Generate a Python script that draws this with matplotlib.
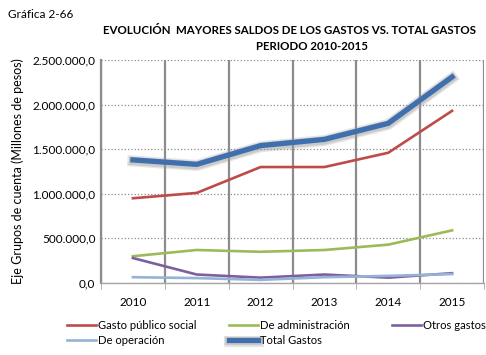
import matplotlib
matplotlib.use('Agg')

import matplotlib.pyplot as plt
import matplotlib.patheffects as pe
from matplotlib.ticker import FuncFormatter, FixedLocator

plt.rcParams['font.family'] = ['Lato', 'DejaVu Sans']

years = ['2010', '2011', '2012', '2013', '2014', '2015']
gasto_social = [950000, 1010000, 1300000, 1300000, 1460000, 1930000]
administracion = [300000, 370000, 350000, 370000, 430000, 590000]
otros_gastos = [280000, 95000, 60000, 95000, 60000, 110000]
operacion = [65000, 55000, 35000, 65000, 80000, 100000]
total_gastos = [1380000, 1330000, 1540000, 1610000, 1790000, 2310000]


def miles(v, pos):
    s = '{:,.1f}'.format(v)
    return s.replace(',', 'X').replace('.', ',').replace('X', '.')


fig = plt.figure(figsize=(4.86, 3.55), dpi=100)
ax = fig.add_axes([101 / 486, 1 - 283 / 355, 383 / 486, 223 / 355])

x = range(len(years))
l1, = ax.plot(x, gasto_social, color='#BE4B48', lw=1.9, label='Gasto público social', zorder=4)
l2, = ax.plot(x, administracion, color='#9BBB59', lw=1.9, label='De administración', zorder=4)
l3, = ax.plot(x, otros_gastos, color='#7D5FA0', lw=1.9, label='Otros gastos', zorder=4)
l4, = ax.plot(x, operacion, color='#95B3D7', lw=1.9, label='De operación', zorder=4)
# sombra difusa bajo la linea del total
sombra = [pe.SimpleLineShadow(offset=(0, -0.8), shadow_color='#9a9a9a', alpha=0.25, linewidth=8),
          pe.SimpleLineShadow(offset=(0, -0.8), shadow_color='#9a9a9a', alpha=0.35, linewidth=6),
          pe.Normal()]
l5, = ax.plot(x, total_gastos, color='#3F6FAD', lw=3.8, label='Total Gastos', zorder=5,
              path_effects=sombra)

ax.set_xlim(-0.5, 5.5)
ax.set_ylim(0, 2500000)
ax.set_yticks([0, 500000, 1000000, 1500000, 2000000, 2500000])
ax.yaxis.set_major_formatter(FuncFormatter(miles))
ax.set_xticks(list(x))
ax.set_xticklabels(years)
ax.xaxis.set_minor_locator(FixedLocator([i - 0.5 for i in range(7)]))
ax.tick_params(axis='x', which='major', length=0, labelsize=8.5, pad=10)
ax.tick_params(axis='x', which='minor', length=4, color='#A6A6A6')
ax.tick_params(axis='y', length=0, labelsize=8.5, pad=4)

ax.grid(axis='y', which='major', linestyle=':', color='#8C8C8C', lw=0.9)
ax.grid(axis='x', which='minor', linestyle='-', color='#8C8C8C', lw=1.6)
ax.set_axisbelow(True)

for side in ['top', 'right']:
    ax.spines[side].set_visible(False)
ax.spines['left'].set_color('#8C8C8C')
ax.spines['left'].set_linewidth(1.6)
ax.spines['bottom'].set_color('#A6A6A6')
ax.spines['bottom'].set_linewidth(1.0)

ax.set_ylabel('Eje Grupos de cuenta (Millones de pesos)', fontsize=9, labelpad=6)

fig.text(8 / 486, 1 - 14 / 355, 'Gráfica 2-66', fontsize=8.5, va='center', ha='left')
fig.text(289 / 486, 1 - 30 / 355, 'EVOLUCIÓN  MAYORES SALDOS DE LOS GASTOS VS. TOTAL GASTOS',
         fontsize=8.3, fontweight='bold', ha='center', va='center')
fig.text(312 / 486, 1 - 46 / 355, 'PERIODO 2010-2015',
         fontsize=8.3, fontweight='bold', ha='center', va='center')

# leyenda en tres columnas, llenadas por filas
columnas = [([l1, l4], 67), ([l2, l5], 229), ([l3], 392)]
for hs, xpos in columnas:
    fig.legend(hs, [h.get_label() for h in hs], loc='upper left',
               bbox_to_anchor=(xpos / 486, 1 - 320 / 355), frameon=False,
               fontsize=8.1, handlelength=2.6, handletextpad=0.15,
               labelspacing=0.35, borderaxespad=0, borderpad=0)

fig.savefig('out.png', dpi=100)
